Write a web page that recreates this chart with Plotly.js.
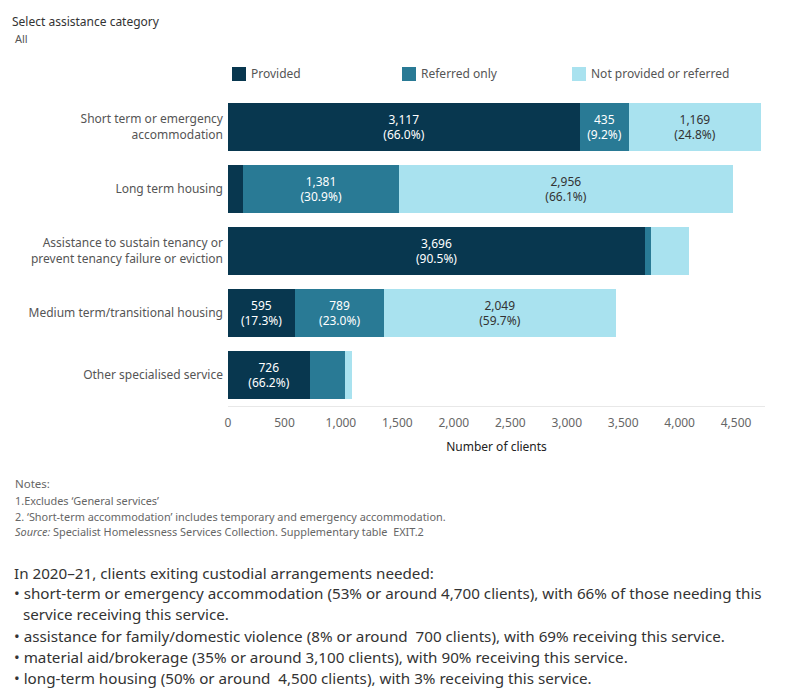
<!DOCTYPE html>
<html><head><meta charset="utf-8">
<script src="https://cdn.plot.ly/plotly-3.0.1.min.js"></script>
<style>body{margin:0;background:#fff}#chart{width:800px;height:700px}</style>
</head><body><div id="chart"></div>
<script>
const categories = [
  "Short term or emergency<br>accommodation",
  "Long term housing",
  "Assistance to sustain tenancy or<br>prevent tenancy failure or eviction",
  "Medium term/transitional housing",
  "Other specialised service"
];
const provided = [3117, 135, 3696, 595, 726];
const referred = [435, 1381, 53, 789, 309];
const notProvided = [1169, 2956, 336, 2049, 62];
const showProvided = [true, false, true, true, true];
const showReferred = [true, true, false, true, false];
const showNot = [true, true, false, true, false];
const xTicks = [0, 500, 1000, 1500, 2000, 2500, 3000, 3500, 4000, 4500];
const seriesNames = ["Provided", "Referred only", "Not provided or referred"];
const colors = ["#08374f", "#297a95", "#a9e2ef"];

const totals = provided.map((v, i) => v + referred[i] + notProvided[i]);
function labels(vals, show) {
  return vals.map((v, i) => show[i] ? v.toLocaleString("en-US") + "<br>(" + (100 * v / totals[i]).toFixed(1) + "%)" : "");
}
const FONT = "Noto Sans, Open Sans, sans-serif";
const mk = (vals, show, name, color, tc) => ({
  type: "bar", orientation: "h", y: categories, x: vals, name: name,
  marker: {color: color, line: {width: 0}},
  text: labels(vals, show), textposition: "inside", insidetextanchor: "middle",
  textfont: {color: tc, size: 12, family: FONT}, hoverinfo: "x+name", showlegend: false,
  cliponaxis: false, constraintext: "none"
});
const data = [
  mk(provided, showProvided, seriesNames[0], colors[0], "#ffffff"),
  mk(referred, showReferred, seriesNames[1], colors[1], "#ffffff"),
  mk(notProvided, showNot, seriesNames[2], colors[2], "#333333")
];

const L = 228, W = 537;
const px = p => (p - L) / W;
const py = p => (406 - p) / 310;
const shapes = [], annotations = [];
const legX = [232, 402, 572];
seriesNames.forEach((n, i) => {
  shapes.push({type: "rect", xref: "paper", yref: "paper", x0: px(legX[i]), x1: px(legX[i] + 14),
    y0: py(81), y1: py(67), line: {width: 0}, fillcolor: colors[i]});
  annotations.push({xref: "paper", yref: "paper", x: px(legX[i] + 17), y: py(74), xanchor: "left", yanchor: "middle",
    text: n, showarrow: false, font: {size: 12, color: "#555", family: FONT}});
});
const addText = (x, y, t, size, color) => annotations.push({xref: "paper", yref: "paper", x: px(x), y: py(y),
  xanchor: "left", yanchor: "middle", text: t, showarrow: false, font: {size: size, color: color, family: FONT}});
addText(10, 21, "Select assistance category", 12, "#333");
addText(13, 38, "All", 11, "#555");
addText(13, 484, "Notes:", 11.5, "#666");
addText(13, 500, "1.Excludes ‘General services’", 10.9, "#666");
addText(13, 516, "2. ‘Short-term accommodation’ includes temporary and emergency accommodation.", 10.9, "#666");
addText(13, 531, "<i>Source:</i> Specialist Homelessness Services Collection. Supplementary table  EXIT.2", 10.9, "#666");
addText(12, 573, "In 2020–21, clients exiting custodial arrangements needed:", 15.2, "#333");
addText(12, 593, "• short-term or emergency accommodation (53% or around 4,700 clients), with 66% of those needing this", 15.2, "#333");
addText(21, 614, "service receiving this service.", 15.2, "#333");
addText(12, 636, "• assistance for family/domestic violence (8% or around  700 clients), with 69% receiving this service.", 15.2, "#333");
addText(12, 657, "• material aid/brokerage (35% or around 3,100 clients), with 90% receiving this service.", 15.2, "#333");
addText(12, 678, "• long-term housing (50% or around  4,500 clients), with 3% receiving this service.", 15.2, "#333");

const layout = {
  width: 800, height: 700, barmode: "stack", bargap: 0.24,
  margin: {l: L, r: 800 - L - W, t: 96, b: 294},
  paper_bgcolor: "#fff", plot_bgcolor: "#fff",
  font: {family: FONT, color: "#555"},
  xaxis: {range: [0, 4756], tickvals: xTicks, ticktext: xTicks.map(v => v.toLocaleString("en-US")),
    showgrid: false, zeroline: false, showline: true, linecolor: "#e8e8e8", linewidth: 1,
    tickfont: {size: 12, color: "#666"}, ticks: "", ticklabelstandoff: 6,
    title: {text: "Number of clients", font: {size: 12, color: "#222"}, standoff: 12}},
  yaxis: {autorange: "reversed", showgrid: false, zeroline: false, showline: false, ticks: "",
    tickfont: {size: 12, color: "#555"}, ticklabelstandoff: 4},
  shapes: shapes, annotations: annotations, showlegend: false
};
Plotly.newPlot("chart", data, layout, {displayModeBar: false, staticPlot: true});
</script></body></html>
